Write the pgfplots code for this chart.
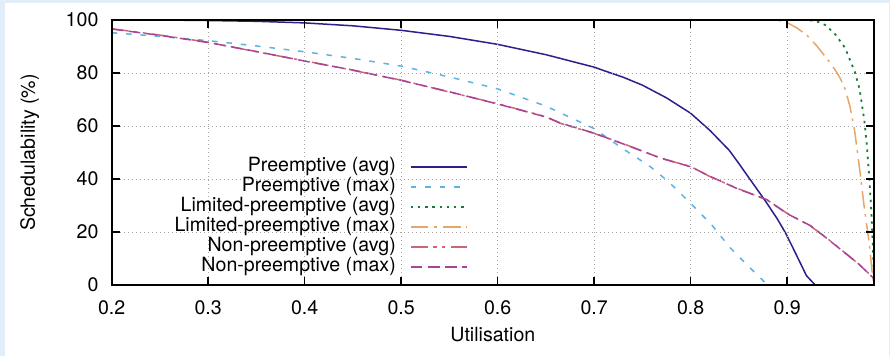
\documentclass[border=0pt]{standalone}
\usepackage{pgfplots}
\pgfplotsset{compat=1.18}
\usepackage{fontspec}
\setmainfont{TeX Gyre Heros}
\usetikzlibrary{backgrounds,calc}
\definecolor{pavg}{HTML}{2E1F8C}
\definecolor{pmax}{HTML}{5DB3E4}
\definecolor{lavg}{HTML}{1A7A3A}
\definecolor{lmax}{HTML}{E6A86A}
\definecolor{navg}{HTML}{CC6677}
\definecolor{nmax}{HTML}{AA4499}
\definecolor{bgblue}{RGB}{225,237,248}
\newcommand{\chartfont}{\fontsize{9.8pt}{11pt}\selectfont}
\begin{document}
\begin{tikzpicture}
\begin{axis}[name=ax,
  width=381.2pt, height=132.5pt, scale only axis,
  xmin=0.2, xmax=0.99, ymin=0, ymax=100,
  xtick={0.2,0.3,0.4,0.5,0.6,0.7,0.8,0.9},
  xticklabels={0.2,0.3,0.4,0.5,0.6,0.7,0.8,0.9},
  ytick={0,20,40,60,80,100},
  yticklabels={0,20,40,60,80,100},
  /pgf/number format/assume math mode=true,
  tick label style={font=\chartfont},
  xticklabel style={yshift=-4.2pt},
  yticklabel style={xshift=-3.1pt},
  grid=major,
  major grid style={gray!70, line width=0.4pt, dash pattern=on 0.5pt off 1.5pt},
  tick align=inside, major tick length=4pt,
  tick style={black, line width=0.8pt},
  axis line style={black, line width=0.9pt},
  axis on top,
  no markers,
  every axis x label/.style={at={(axis description cs:0.5,-0.1887)}, anchor=center, font=\chartfont},
  every axis y label/.style={at={(axis description cs:-0.1076,0.5)}, rotate=90, anchor=center, font=\chartfont},
  xlabel={Utilisation},
  ylabel={Schedulability (\%)},
  legend plot pos=right,
  legend cell align=right,
  legend image code/.code={\draw[#1] (0pt,0pt) -- (28pt,0pt);},
  legend style={draw=none, fill=none, at={(0.4674,0.484)}, anchor=north east,
    font=\chartfont, inner sep=0pt, row sep=0pt, column sep=7pt,
    nodes={inner sep=0pt, text height=7.2pt, text depth=2.8pt}},
]
\addplot[pavg, line width=0.75pt] coordinates {
(0.20,100) (0.25,100) (0.30,99.8) (0.35,99.5) (0.40,98.9) (0.45,97.8)
(0.50,96.1) (0.55,93.8) (0.60,90.8) (0.65,86.9) (0.70,82.2) (0.71,80.9)
(0.73,78.4) (0.75,75.4) (0.775,70.6) (0.80,64.8) (0.82,58.3) (0.84,50.8)
(0.85,45.8) (0.862,39.6) (0.878,31.4) (0.89,24.8) (0.8985,19.5) (0.91,11)
(0.92,3.5) (0.929,0)
};
\addlegendentry{Preemptive (avg)}
\addplot[pmax, line width=0.75pt, dash pattern=on 2.8pt off 4.4pt] coordinates {
(0.20,95.2) (0.25,93.8) (0.30,92.2) (0.35,90.2) (0.40,88) (0.45,85.5)
(0.50,82.6) (0.55,78.5) (0.60,74) (0.65,67.5) (0.70,59) (0.729,51.6)
(0.758,44.7) (0.777,39) (0.80,30.8) (0.822,22.6) (0.841,14) (0.862,6.3)
(0.876,1.3) (0.88,0)
};
\addlegendentry{Preemptive (max)}
\addplot[lavg, line width=0.9pt, dash pattern=on 1.2pt off 2.4pt] coordinates {
(0.20,100) (0.50,100) (0.80,100) (0.92,100) (0.93,99.6) (0.94,98) (0.95,94.5)
(0.96,89.5) (0.97,80.5) (0.975,74) (0.98,62) (0.9825,53) (0.985,41)
(0.9875,26) (0.989,12) (0.99,0)
};
\addlegendentry{Limited-preemptive (avg)}
\addplot[lmax, line width=0.75pt, dash pattern=on 8.8pt off 2.8pt on 1.3pt off 3.2pt] coordinates {
(0.20,100) (0.50,100) (0.80,100) (0.89,100) (0.90,99) (0.91,97) (0.92,94.4)
(0.93,90.5) (0.94,86) (0.95,81) (0.955,78) (0.96,74) (0.965,67.5)
(0.97,58) (0.975,44) (0.98,29) (0.985,16) (0.988,5) (0.99,0)
};
\addlegendentry{Limited-preemptive (max)}
\addplot[navg, line width=0.75pt, dash pattern=on 8.5pt off 2.8pt on 1.6pt off 2.8pt on 1.6pt off 3pt] coordinates {
(0.20,96.7) (0.25,94.3) (0.30,91.6) (0.35,88) (0.40,84.6) (0.45,81)
(0.50,77.3) (0.55,72.8) (0.60,68.4) (0.65,63.5) (0.665,61) (0.70,57.2)
(0.734,52.8) (0.769,47.8) (0.80,44.7) (0.82,40.9) (0.848,36.5) (0.879,32.1)
(0.90,27) (0.924,22.3) (0.94,18) (0.952,14.5) (0.973,8.2) (0.99,2.5)
};
\addlegendentry{Non-preemptive (avg)}
\addplot[nmax, line width=0.75pt, dash pattern=on 5.8pt off 2.8pt] coordinates {
(0.20,96.6) (0.25,94.2) (0.30,91.5) (0.35,88.1) (0.40,84.5) (0.45,81.1)
(0.50,77.2) (0.55,72.9) (0.60,68.3) (0.65,63.4) (0.665,61.1) (0.70,57.3)
(0.734,52.7) (0.769,47.9) (0.80,44.6) (0.82,41) (0.848,36.4) (0.879,32.2)
(0.90,26.9) (0.924,22.4) (0.94,17.9) (0.952,14.4) (0.973,8.3) (0.99,2.4)
};
\addlegendentry{Non-preemptive (max)}
\end{axis}
\begin{scope}[on background layer]
\fill[bgblue] ($(ax.south west)+(-55.85pt,-35.5pt)$) rectangle ($(ax.north east)+(8pt,10pt)$);
\fill[white] ($(ax.south west)+(-53.35pt,-35.5pt)$) rectangle ($(ax.north east)+(7.5pt,8.5pt)$);
\end{scope}
\pgfresetboundingbox
\path[use as bounding box] ($(ax.south west)+(-55.85pt,-35.5pt)$) rectangle ($(ax.north east)+(8pt,10pt)$);
\end{tikzpicture}
\end{document}
